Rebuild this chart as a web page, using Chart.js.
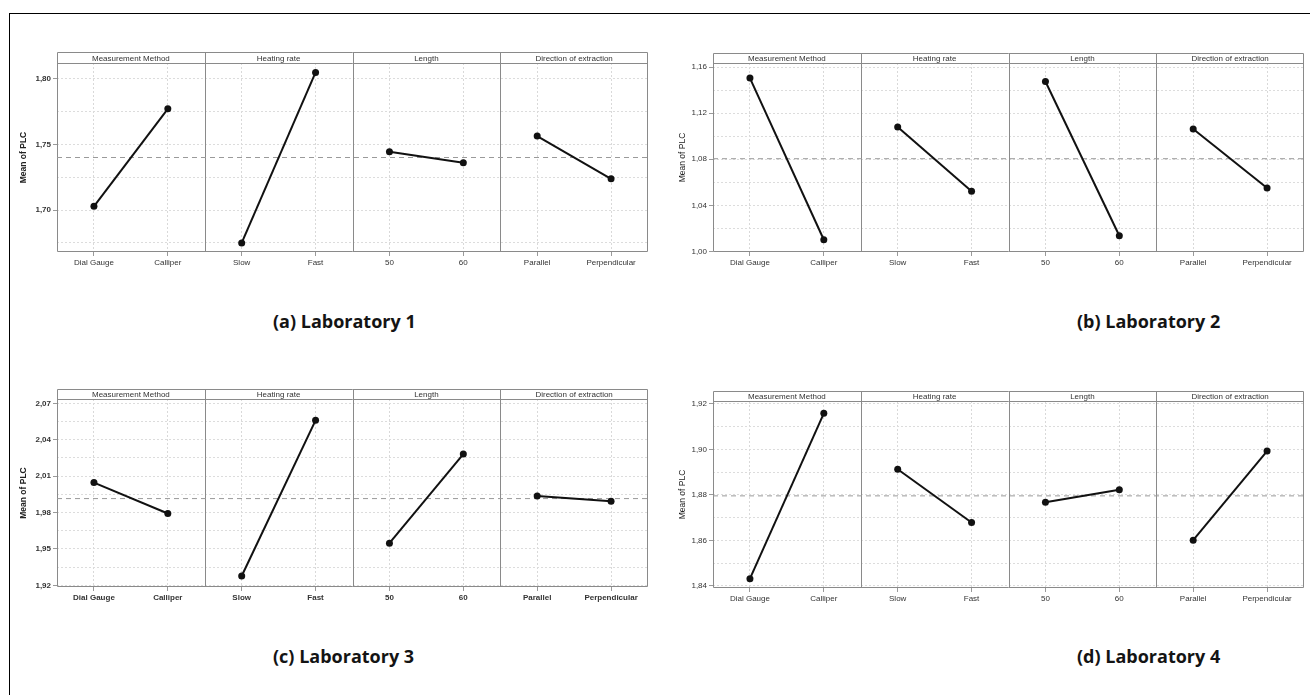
<!DOCTYPE html>
<html>
<head>
<meta charset="utf-8">
<script src="https://cdn.jsdelivr.net/npm/chart.js@4.4.1/dist/chart.umd.min.js"></script>
<style>
    html, body { margin: 0; padding: 0; background: #fff; }
    body { width: 1310px; height: 695px; position: relative; overflow: hidden; }
    #frame { position: absolute; left: 9px; top: 13px; width: 1330px; height: 720px; border: 1px solid #000; }
    canvas { position: absolute; }
    .cap { position: absolute; font-family: "Open Sans"; font-weight: 700; font-size: 18px; line-height: 18px; color: #141414; white-space: nowrap; }
</style>
</head>
<body>
<div id="frame"></div>
<div class="cap" style="left:273px;top:312px">(a) Laboratory 1</div>
<div class="cap" style="left:1077px;top:312px">(b) Laboratory 2</div>
<div class="cap" style="left:273px;top:647px">(c) Laboratory 3</div>
<div class="cap" style="left:1077px;top:647px">(d) Laboratory 4</div>
<canvas id="lab1"></canvas>
<canvas id="lab2"></canvas>
<canvas id="lab3"></canvas>
<canvas id="lab4"></canvas>
<script>
// factors and their two levels each (Minitab main effects plot for PLC)
const factors = ['Measurement Method', 'Heating rate', 'Length', 'Direction of extraction'];
const levels = ['Dial Gauge', 'Calliper', 'Slow', 'Fast', '50', '60', 'Parallel', 'Perpendicular'];

// mean of PLC per level, same order as levels
const lab1Values = [1.7028, 1.7771, 1.6749, 1.8048, 1.7444, 1.7360, 1.7563, 1.7238];
const lab2Values = [1.1504, 1.0102, 1.1080, 1.0522, 1.1475, 1.0137, 1.1063, 1.0551];
const lab3Values = [2.0047, 1.9792, 1.9277, 2.0560, 1.9547, 2.0282, 1.9937, 1.9893];
const lab4Values = [1.8432, 1.9159, 1.8913, 1.8679, 1.8768, 1.8823, 1.8601, 1.8993];

// overall mean (dashed reference line)
const labMeans = [1.7400, 1.0805, 1.9915, 1.8796];

// y tick labels and axis ranges
const lab1YTicks = [1.70, 1.75, 1.80];
const lab2YTicks = [1.00, 1.04, 1.08, 1.12, 1.16];
const lab3YTicks = [1.92, 1.95, 1.98, 2.01, 2.04, 2.07];
const lab4YTicks = [1.84, 1.86, 1.88, 1.90, 1.92];
const labYMin = [1.668, 0.9996, 1.9186, 1.8391];
const labYMax = [1.812, 1.1635, 2.0736, 1.9213];

const fmt = v => v.toFixed(2).replace('.', ',');

const panelDecor = {
    id: 'panelDecor',
    beforeDatasetsDraw(chart, args, opts) {
        const { ctx, chartArea: a, scales: { x } } = chart;
        const top = a.top - opts.stripH;
        ctx.save();
        ctx.strokeStyle = '#8a8a8a';
        ctx.lineWidth = 1;
        ctx.beginPath();
        ctx.rect(Math.round(a.left) + 0.5, Math.round(top) + 0.5, Math.round(a.right - a.left) - 1, Math.round(a.bottom - top) - 1);
        ctx.moveTo(a.left, Math.round(a.top) + 0.5);
        ctx.lineTo(a.right, Math.round(a.top) + 0.5);
        [1.5, 3.5, 5.5].forEach(v => {
            const px = Math.round(x.getPixelForValue(v)) + 0.5;
            ctx.moveTo(px, top);
            ctx.lineTo(px, a.bottom);
        });
        ctx.stroke();

        ctx.fillStyle = '#333';
        ctx.font = '8px Arial, "Liberation Sans"';
        ctx.textAlign = 'center';
        ctx.textBaseline = 'middle';
        factors.forEach((f, k) => {
            ctx.fillText(f, x.getPixelForValue(2 * k + 0.5), top + opts.stripH / 2 + 1);
        });

        ctx.translate(a.left - opts.titleOff, (a.top + a.bottom) / 2);
        ctx.rotate(-Math.PI / 2);
        ctx.fillStyle = '#222';
        ctx.font = (opts.boldY ? 'bold ' : '') + '8.5px Arial, "Liberation Sans"';
        ctx.fillText('Mean of PLC', 0, 0);
        ctx.restore();
    }
};

function makePanel(id, values, mean, yTicks, yMin, yMax, box, stripH, titleOff, boldY, boldX) {
    const [l, t, r, b] = box;
    const canvas = document.getElementById(id);
    canvas.width = (r - l) + 54;
    canvas.height = (b - t) + 40;
    canvas.style.left = (l - 50) + 'px';
    canvas.style.top = (t - 16) + 'px';

    const step = yTicks[1] - yTicks[0];
    const gridVals = [];
    if (yTicks[0] - step / 2 >= yMin) gridVals.push(yTicks[0] - step / 2);
    yTicks.forEach(v => {
        gridVals.push(v);
        if (v + step / 2 <= yMax) gridVals.push(v + step / 2);
    });
    const isMajor = v => yTicks.some(m => Math.abs(m - v) < 1e-9);

    const datasets = factors.map((f, k) => ({
        label: f,
        data: [{ x: 2 * k, y: values[2 * k] }, { x: 2 * k + 1, y: values[2 * k + 1] }],
        borderColor: '#111',
        backgroundColor: '#111',
        borderWidth: 2,
        pointRadius: 3.5,
        pointBorderWidth: 0,
        order: 1
    }));
    datasets.push({
        label: 'mean',
        data: [{ x: -0.5, y: mean }, { x: 7.5, y: mean }],
        borderColor: '#9a9a9a',
        borderWidth: 1,
        borderDash: [5, 4],
        pointRadius: 0,
        order: 2
    });

    new Chart(canvas, {
        type: 'line',
        data: { datasets },
        options: {
            responsive: false,
            animation: false,
            devicePixelRatio: 1,
            layout: { padding: { left: 6, top: 16, right: 4, bottom: 2 } },
            plugins: {
                legend: { display: false },
                tooltip: { enabled: false },
                panelDecor: { stripH, titleOff, boldY }
            },
            scales: {
                x: {
                    type: 'linear',
                    min: -0.5,
                    max: 7.5,
                    afterBuildTicks: s => { s.ticks = levels.map((_, i) => ({ value: i })); },
                    afterFit: s => { s.height = 22; },
                    ticks: {
                        autoSkip: false,
                        maxRotation: 0,
                        padding: 2,
                        color: '#333',
                        font: { size: 8, weight: boldX ? 'bold' : 'normal', family: 'Arial, "Liberation Sans"' },
                        callback: (v, i) => levels[i]
                    },
                    grid: { color: '#d9d9d9', tickLength: 4, tickColor: '#9a9a9a' },
                    border: { display: false, dash: [2, 2] }
                },
                y: {
                    min: yMin,
                    max: yMax,
                    afterBuildTicks: s => { s.ticks = gridVals.map(v => ({ value: v })); },
                    afterFit: s => { s.width = 44; },
                    ticks: {
                        padding: 2,
                        color: '#333',
                        font: { size: 8, weight: boldY ? 'bold' : 'normal', family: 'Arial, "Liberation Sans"' },
                        callback: v => isMajor(v) ? fmt(v) : ''
                    },
                    grid: {
                        color: '#dcdcdc',
                        tickLength: 4,
                        tickColor: c => isMajor(c.tick.value) ? '#9a9a9a' : 'rgba(0,0,0,0)'
                    },
                    border: { display: false, dash: [2, 2] }
                }
            }
        },
        plugins: [panelDecor]
    });
}

makePanel('lab1', lab1Values, labMeans[0], lab1YTicks, labYMin[0], labYMax[0], [57, 63, 648, 252], 11, 33, true, false);
makePanel('lab2', lab2Values, labMeans[1], lab2YTicks, labYMin[1], labYMax[1], [713, 63, 1304, 252], 10, 30, false, false);
makePanel('lab3', lab3Values, labMeans[2], lab3YTicks, labYMin[2], labYMax[2], [57, 399, 648, 587], 10, 33, true, true);
makePanel('lab4', lab4Values, labMeans[3], lab4YTicks, labYMin[3], labYMax[3], [713, 401, 1304, 588], 10, 30, false, false);
</script>
</body>
</html>
